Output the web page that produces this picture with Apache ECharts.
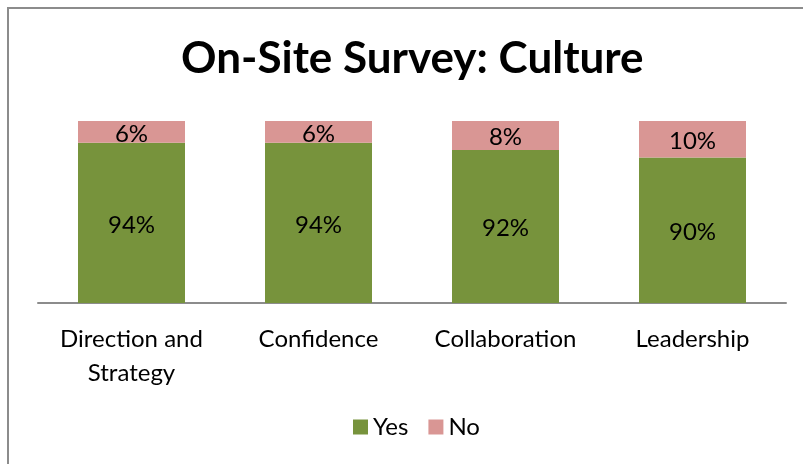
<!DOCTYPE html>
<html><head><meta charset="utf-8">
<script src="https://cdn.jsdelivr.net/npm/echarts@6/dist/echarts.min.js"></script>
<style>html,body{margin:0;padding:0;background:#fff}#c{width:803px;height:464px}</style>
</head><body><div id="c"></div>
<script>
var categories = ['Direction and\nStrategy', 'Confidence', 'Collaboration', 'Leadership'];
var yesValues = [94, 94, 92, 90];
var noValues = [6, 6, 8, 10];
var seriesNames = ['Yes', 'No'];

var chart = echarts.init(document.getElementById('c'));
var font = 'Lato, "Open Sans", sans-serif';
var lbl = {show: true, position: 'inside', offset: [0, 2], color: '#000', fontFamily: font, fontSize: 24,
  formatter: function(p){ return p.value + '%'; }};
chart.setOption({
  animation: false,
  graphic: [{type: 'rect', shape: {x: 8, y: 8, width: 1000, height: 1000},
    style: {fill: 'none', stroke: '#8c8c8c', lineWidth: 2}, silent: true}],
  title: {text: 'On-Site Survey: Culture', left: 176, top: 32,
    textStyle: {fontFamily: font, fontWeight: 'bold', fontSize: 44, color: '#000'}},
  legend: {bottom: 20, left: 348, itemWidth: 15, itemHeight: 15, itemGap: 20, icon: 'rect',
    textStyle: {fontFamily: font, fontSize: 24, color: '#000'}, data: seriesNames},
  grid: {left: 38, right: 17, top: 121, bottom: 161},
  xAxis: {type: 'category', data: categories,
    axisLine: {lineStyle: {color: '#8c8c8c', width: 2}}, axisTick: {show: false},
    axisLabel: {fontFamily: font, fontSize: 24, color: '#000', margin: 19, lineHeight: 34, interval: 0}},
  yAxis: {type: 'value', min: 50, max: 100, show: false, splitLine: {show: false}},
  series: [
    {name: seriesNames[0], type: 'bar', stack: 's', data: yesValues, barWidth: 107,
     itemStyle: {color: '#77933C'}, label: lbl},
    {name: seriesNames[1], type: 'bar', stack: 's', data: noValues, barWidth: 107,
     itemStyle: {color: '#D99694'}, label: lbl}
  ]
});
</script></body></html>
